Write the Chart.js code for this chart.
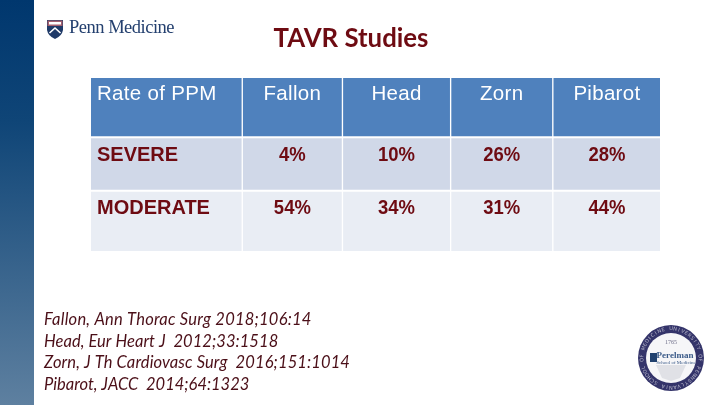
<!DOCTYPE html>
<html>
<head>
<meta charset="utf-8">
<title>TAVR Studies</title>
<script src="https://cdn.jsdelivr.net/npm/chart.js@4"></script>
<style>
    html, body { margin: 0; padding: 0; background: #ffffff; overflow: hidden; }
    #wrap { position: relative; width: 720px; height: 405px; }
</style>
</head>
<body>
<div id="wrap"><canvas id="mainChart" width="720" height="405"></canvas></div>
<script>
// Datos de la tabla
const columns = ["Fallon", "Head", "Zorn", "Pibarot"];
const cornerLabel = "Rate of PPM";
const rowNames = ["SEVERE", "MODERATE"];
const severeRates = [4, 10, 26, 28];
const moderateRates = [54, 34, 31, 44];
const citations = [
    "Fallon, Ann Thorac Surg 2018;106:14",
    "Head, Eur Heart J  2012;33:1518",
    "Zorn, J Th Cardiovasc Surg  2016;151:1014",
    "Pibarot, JACC  2014;64:1323",
];

// Tamaños de celda, en unidades de la tabla
const colWidths = [150, 98, 106, 100, 106];
const rowHeights = [58, 51, 59];
const GAP_X = 2;
const GAP_Y = 2.5;

// Ajuste de espaciado de cada línea de cita
const citeTracking = [0.23, 0.06, 0.12, 0];

const RED = "#6e0b12";
const rowColors = ["#4f81bd", "#d0d8e8", "#e9edf4"];

function spans(sizes, gap) {
    let pos = 0;
    return sizes.map(function (s) {
        const span = [pos, pos + s];
        pos += s + gap;
        return span;
    });
}
const colSpans = spans(colWidths, GAP_X);
const rowSpans = spans(rowHeights, GAP_Y);
const tableWidth = colSpans[colSpans.length - 1][1];
const tableHeight = rowSpans[rowSpans.length - 1][1];

const rowTexts = [
    [cornerLabel].concat(columns),
    [rowNames[0]].concat(severeRates.map((v) => v + "%")),
    [rowNames[1]].concat(moderateRates.map((v) => v + "%")),
];

const datasets = rowSpans.map(function (rowSpan, r) {
    return {
        label: rowTexts[r][0],
        data: colSpans.map((c) => ({ x: c, y: (rowSpan[0] + rowSpan[1]) / 2 })),
        backgroundColor: rowColors[r],
        barThickness: rowHeights[r],
        borderWidth: 0,
        grouped: false,
    };
});

// Fondo: barra lateral, logo y sello
function drawShield(ctx, x, y) {
    ctx.save();
    ctx.translate(x, y);
    ctx.beginPath();
    ctx.moveTo(0, 0);
    ctx.lineTo(16, 0);
    ctx.lineTo(16, 10);
    ctx.quadraticCurveTo(15, 16, 8, 19);
    ctx.quadraticCurveTo(1, 16, 0, 10);
    ctx.closePath();
    ctx.fillStyle = "#1f3a68";
    ctx.fill();
    ctx.fillStyle = "#a5606f";
    ctx.fillRect(0.5, 0.5, 15, 5.5);
    ctx.fillStyle = "#ffffff";
    ctx.fillRect(2, 2, 12, 2.5);
    ctx.strokeStyle = "#ffffff";
    ctx.lineWidth = 1.6;
    ctx.beginPath();
    ctx.moveTo(2.5, 13);
    ctx.lineTo(8, 8);
    ctx.lineTo(13.5, 13);
    ctx.stroke();
    ctx.restore();
}

function drawSeal(ctx, cx, cy) {
    ctx.save();
    ctx.filter = "blur(0.5px)";
    ctx.beginPath();
    ctx.arc(cx, cy, 33, 0, Math.PI * 2);
    ctx.fillStyle = "#34346a";
    ctx.fill();
    ctx.beginPath();
    ctx.arc(cx, cy, 25, 0, Math.PI * 2);
    ctx.fillStyle = "#f6f6f8";
    ctx.fill();
    // letras del anillo
    ctx.fillStyle = "#b9b9cc";
    ctx.font = "5px 'DejaVu Sans'";
    ctx.textAlign = "center";
    ctx.textBaseline = "middle";
    const ring = "UNIVERSITY OF PENNSYLVANIA SCHOOL OF MEDICINE ";
    for (let i = 0; i < ring.length; i++) {
        const a = (i / ring.length) * Math.PI * 2 - Math.PI / 2;
        ctx.save();
        ctx.translate(cx + Math.cos(a) * 29, cy + Math.sin(a) * 29);
        ctx.rotate(a + Math.PI / 2);
        ctx.fillText(ring[i], 0, 0);
        ctx.restore();
    }
    // escudo gris
    ctx.fillStyle = "#e0e1e6";
    ctx.beginPath();
    ctx.moveTo(cx - 15, cy + 7);
    ctx.lineTo(cx + 15, cy + 7);
    ctx.lineTo(cx + 9, cy + 20);
    ctx.lineTo(cx, cy + 23);
    ctx.lineTo(cx - 9, cy + 20);
    ctx.closePath();
    ctx.fill();
    ctx.fillStyle = "#70708a";
    ctx.font = "6px 'Liberation Serif'";
    ctx.fillText("1765", cx, cy - 16);
    ctx.fillStyle = "#3a5a88";
    ctx.font = "bold 9px 'Liberation Serif'";
    ctx.fillText("Perelman", cx + 4, cy - 2);
    ctx.font = "5px 'Liberation Serif'";
    ctx.fillText("School of Medicine", cx + 5, cy + 5);
    ctx.fillStyle = "#20406e";
    ctx.fillRect(cx - 21, cy - 5, 7, 9);
    ctx.restore();
}

const slidePlugin = {
    id: "slidePlugin",
    beforeDraw: function (chart) {
        const ctx = chart.ctx;
        const grad = ctx.createLinearGradient(0, 0, 0, chart.height);
        grad.addColorStop(0, "#00376e");
        grad.addColorStop(0.3, "#0f4577");
        grad.addColorStop(1, "#5e80a0");
        ctx.fillStyle = grad;
        ctx.fillRect(0, 0, 34, chart.height);
        drawShield(ctx, 47, 20);
        drawSeal(ctx, 671, 358);

        ctx.save();
        ctx.textBaseline = "alphabetic";
        ctx.textAlign = "left";
        ctx.fillStyle = "#24406f";
        ctx.font = "18.5px 'Liberation Serif'";
        ctx.letterSpacing = "-0.5px";
        ctx.fillText("Penn Medicine", 69, 33);
        ctx.letterSpacing = "0px";
        ctx.restore();
    },
};

// Textos de la tabla, título y citas
const textPlugin = {
    id: "textPlugin",
    afterDatasetsDraw: function (chart) {
        const ctx = chart.ctx;
        const x = chart.scales.x;
        const y = chart.scales.y;
        ctx.save();
        ctx.textBaseline = "alphabetic";
        rowTexts.forEach(function (cells, r) {
            const base = y.getPixelForValue(rowSpans[r][0]) + 22;
            cells.forEach(function (txt, c) {
                const mid = x.getPixelForValue((colSpans[c][0] + colSpans[c][1]) / 2);
                if (r === 0) {
                    ctx.fillStyle = "#ffffff";
                    ctx.font = "20.5px 'Liberation Sans'";
                    ctx.letterSpacing = "0.3px";
                } else {
                    ctx.fillStyle = RED;
                    ctx.font = "bold 20px 'Liberation Sans'";
                    ctx.letterSpacing = "0px";
                }
                if (c === 0) {
                    ctx.textAlign = "left";
                    ctx.fillText(txt, x.getPixelForValue(colSpans[c][0]) + 6, base);
                } else if (r === 0) {
                    ctx.textAlign = "center";
                    ctx.fillText(txt, mid, base);
                } else {
                    // los porcentajes van algo estrechos
                    ctx.save();
                    ctx.font = "bold 21px 'Liberation Sans'";
                    ctx.textAlign = "center";
                    ctx.translate(mid, base);
                    ctx.scale(0.88, 1);
                    ctx.fillText(txt, 0, 0);
                    ctx.restore();
                }
            });
        });
        ctx.letterSpacing = "0px";

        ctx.textAlign = "center";
        ctx.fillStyle = RED;
        ctx.font = "bold 25.8px Lato";
        ctx.fillText("TAVR Studies", 351, 47);

        ctx.textAlign = "left";
        ctx.fillStyle = "#4b0f18";
        ctx.font = "italic 16.5px Lato";
        citations.forEach(function (line, i) {
            ctx.letterSpacing = citeTracking[i] + "px";
            ctx.fillText(line, 44, 325 + i * 21.7);
        });
        ctx.letterSpacing = "0px";
        ctx.restore();
    },
};

document.addEventListener("DOMContentLoaded", function () {
    const ctx = document.getElementById("mainChart").getContext("2d");
    new Chart(ctx, {
        type: "bar",
        data: { datasets: datasets },
        options: {
            indexAxis: "y",
            responsive: false,
            animation: false,
            layout: { padding: { left: 91, top: 78, right: 60, bottom: 154 } },
            plugins: {
                legend: { display: false },
                title: { display: false },
                tooltip: { enabled: false },
            },
            scales: {
                x: { type: "linear", min: 0, max: tableWidth, display: false },
                y: { type: "linear", offset: false, min: 0, max: tableHeight, reverse: true, display: false },
            },
        },
        plugins: [slidePlugin, textPlugin],
    });
});
</script>
</body>
</html>
